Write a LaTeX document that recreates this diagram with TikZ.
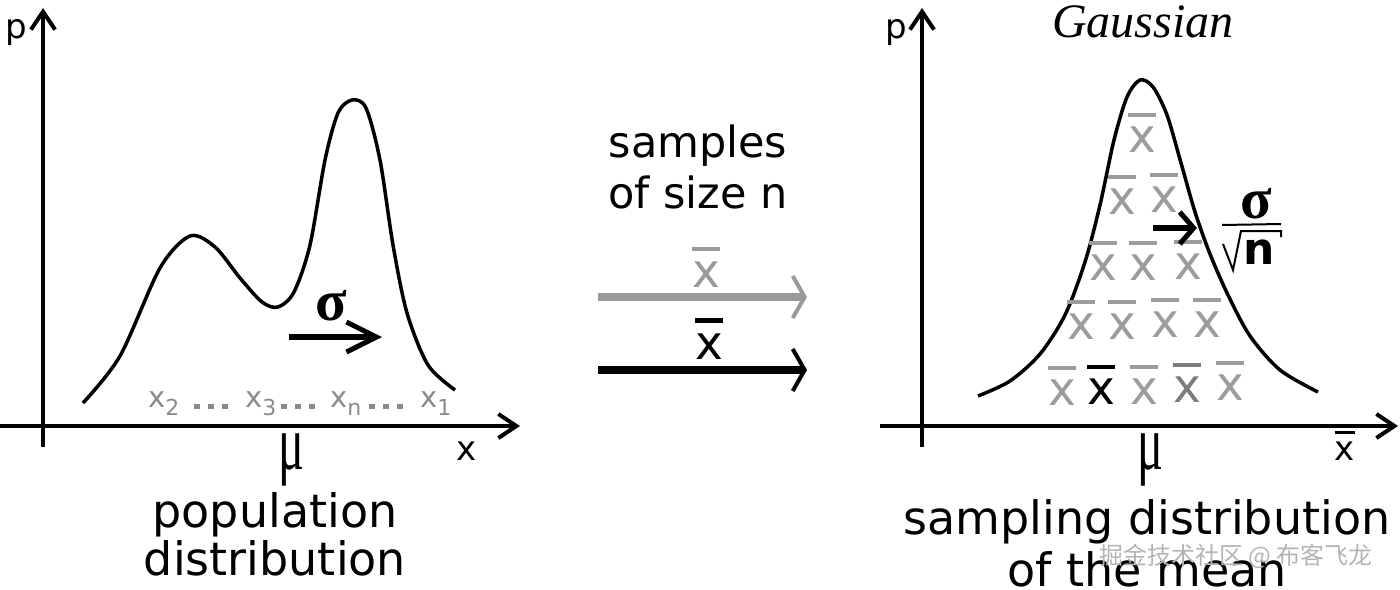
\documentclass[tikz,border=0pt]{standalone}
\usepackage{fontspec}
\setmainfont{DejaVu Sans}
\newfontfamily\timesfont{Liberation Serif}
\newfontfamily\cjkfont{Noto Sans CJK SC}
\usepackage{xcolor}
\definecolor{Ink}{HTML}{000000}
\definecolor{Sample}{HTML}{8A8A8A}
\definecolor{Mean}{HTML}{9C9C9C}
\definecolor{MeanDark}{HTML}{7C7C7C}
\definecolor{Pale}{HTML}{9A9A9A}
\definecolor{Mark}{HTML}{B4B4B4}
\usetikzlibrary{arrows.meta,positioning}
\newcommand\smpl[1]{x\raisebox{-8pt}{\fontsize{22}{22}\selectfont #1}}
\tikzset{
  axis/.style={line width=4pt,-{Straight Barb[length=18pt,width=24pt]}},
  density/.style={line width=3.5pt},
  spread/.style={line width=6pt,-{Straight Barb[length=30pt,width=30pt,line width=5pt]}},
  shrink/.style={line width=6pt,-{Straight Barb[length=14pt,width=32pt,line width=5pt]}},
  sampler/.style={line width=8pt,-{Straight Barb[length=12pt,width=42pt,line width=4pt]}},
  lbl/.style={inner sep=0pt,font=\fontsize{34}{36}\selectfont},
  captext/.style={inner sep=0pt,font=\fontsize{46}{48}\selectfont},
  mu/.style={inner sep=0pt,font=\timesfont\fontsize{78}{78}\selectfont},
  sig/.style={inner sep=0pt,font=\timesfont\bfseries\fontsize{58}{58}\selectfont},
  xsample/.style={inner sep=0pt,text=Sample,font=\fontsize{29}{29}\selectfont},
  dots/.style={Sample,line width=5pt,dash pattern=on 6pt off 8pt},
  xmean/.style={inner sep=0pt,font=\fontsize{47}{47}\selectfont},
  meanbar/.style={line width=4.5pt}
}
\begin{document}
\begin{tikzpicture}[x=1pt,y=-1pt]
  \useasboundingbox (0,0) rectangle (1400,589);
  % population distribution
  \coordinate (pb) at (43,447);
  \coordinate (pt) at (43,8);
  \coordinate (xa) at (0,426);
  \coordinate (xb) at (520,426);
  \draw[axis] (pb) -- (pt);
  \draw[axis] (xa) -- (xb);
  \node[lbl,anchor=base] (plab) at (16,38) {p};
  \node[lbl,anchor=base] (xlab) at (467,460) {x};
  \draw[density] plot[smooth] coordinates {(83,403) (120,356) (160,268)
    (190,236) (215,247) (240,278) (262,302) (278,307) (294,292) (310,245) (325,160)
    (338,113) (352,100) (366,108) (380,160) (393,245) (407,313) (428,365) (455,390)};
  \node[sig] (sigma) at (331,306) {σ};
  \coordinate (sa) at (289,337);
  \coordinate (sb) at (382,337);
  \draw[spread] (sa) -- (sb);
  \node[xsample,anchor=base west] (s2) at (148,407) {\smpl{2}};
  \node[xsample,anchor=base west] (s3) at (245,407) {\smpl{3}};
  \node[xsample,anchor=base west] (sn) at (330,407) {\smpl{n}};
  \node[xsample,anchor=base west] (s1) at (420,407) {\smpl{1}};
  \draw[dots] ([xshift=14pt,yshift=-3pt]s2.east) -- ++(34,0);
  \draw[dots] ([xshift=4pt,yshift=-3pt]s3.east) -- ++(34,0);
  \draw[dots] ([xshift=7pt,yshift=-3pt]sn.east) -- ++(34,0);
  \node[mu,anchor=base] (mupop) at (291,469) {\scalebox{0.62}[1]{μ}};
  \node[captext,anchor=base] (pop) at (275,527) {population};
  \node[captext,anchor=base] (popd) at ([yshift=-48pt]pop.base) {distribution};

  % sampling step
  \node[captext,anchor=base,font=\fontsize{43}{48}\selectfont] (samples) at (698,157) {samples};
  \node[captext,anchor=base,font=\fontsize{43}{48}\selectfont] (size) at ([yshift=-51pt]samples.base) {of size n};
  \coordinate (ga) at (598,297);
  \coordinate (gb) at (807,297);
  \draw[sampler,Pale] (ga) -- (gb);
  \node[xmean,text=Pale] (gx) at (706,275) {x};
  \draw[meanbar,Pale] ([yshift=13pt]gx.north west) -- ([yshift=13pt]gx.north east);
  \coordinate (ka) at (598,370);
  \coordinate (kb) at (807,370);
  \draw[sampler,Ink] (ka) -- (kb);
  \node[xmean,text=Ink] (kx) at (709,347) {x};
  \draw[meanbar,line width=5pt,Ink] ([yshift=13pt]kx.north west) -- ([yshift=13pt]kx.north east);

  % sampling distribution of the mean
  \coordinate (qb) at (922,447);
  \coordinate (qt) at (922,8);
  \coordinate (ua) at (880,426);
  \coordinate (ub) at (1398,426);
  \draw[axis] (qb) -- (qt);
  \draw[axis] (ua) -- (ub);
  \node[lbl,anchor=base] (qlab) at (896,38) {p};
  \node[lbl,anchor=base] (ulab) at (1345,460) {x};
  \draw[line width=3pt] ([yshift=9pt]ulab.north west) -- ([yshift=9pt]ulab.north east);
  \node[anchor=base,inner sep=0pt,font=\timesfont\itshape\fontsize{48}{48}\selectfont] (gauss) at (1143,37) {Gaussian};
  \draw[density] plot[smooth] coordinates {(978,396) (1010,381) (1040,354) (1065,315)
    (1085,262) (1100,205) (1114,140) (1127,97) (1140,80) (1153,87) (1167,115)
    (1181,163) (1195,212) (1210,254) (1228,295) (1250,336) (1280,370) (1318,392)};
  \foreach \px/\py/\c [count=\k] in {1142/140/Mean, 1122/202/Mean, 1164/200/Mean,
      1103/268/Mean, 1143/268/Mean, 1188/267/Mean,
      1081/327/Mean, 1122/327/Mean, 1165/325/Mean, 1207/325/Mean,
      1062/393/Mean, 1101/392/Ink, 1144/392/Mean, 1187/390/MeanDark, 1230/388/Mean}{
    \node[xmean,text=\c] (m\k) at (\px,\py) {x};
    \draw[meanbar,\c] ([yshift=12pt]m\k.north west) -- ([yshift=12pt]m\k.north east);
  }
  \coordinate (ra) at (1153,228);
  \coordinate (rb) at (1197,228);
  \draw[shrink] (ra) -- (rb);
  \node[sig] (rsig) at (1256,204) {σ};
  \node[inner sep=0pt,font=\bfseries\fontsize{44}{44}\selectfont] (rn) at (1259,252) {n};
  \draw[line width=2pt] (1222,225) -- (1281,224);
  \draw[line width=2pt] (1223,244) -- (1233,270) -- (1241,231) -- (1281,231) -- (1281,237);
  \node[mu,anchor=base] (mumean) at (1150,469) {\scalebox{0.62}[1]{μ}};
  \node[captext,anchor=base] (sdist) at (1147,534) {sampling distribution};
  \node[captext,anchor=base] (ofmean) at ([yshift=-52pt]sdist.base) {of the mean};
  \node[inner sep=0pt,text=Mark,font=\cjkfont\fontsize{24}{24}\selectfont] (mark) at (1236,556) {掘金技术社区 @ 布客飞龙};
\end{tikzpicture}
\end{document}
